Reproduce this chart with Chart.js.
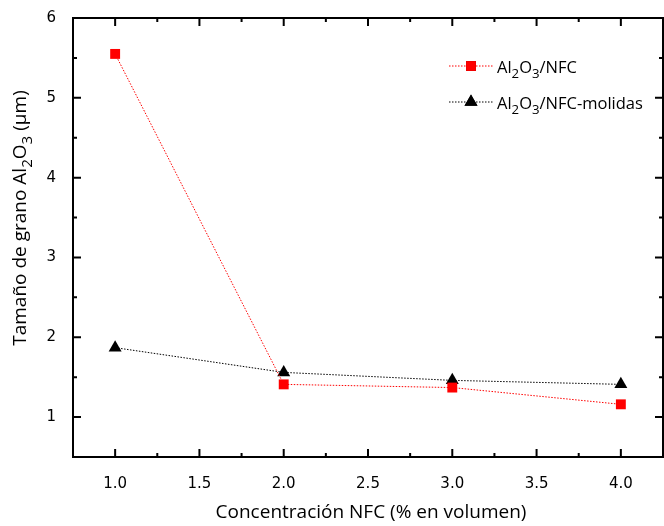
<!DOCTYPE html>
<html>
<head>
<meta charset="utf-8">
<script src="https://cdn.jsdelivr.net/npm/chart.js@4.4.1/dist/chart.umd.min.js"></script>
<style>
  html, body { margin: 0; padding: 0; background: #fff; }
  #wrap { width: 664px; height: 526px; }
</style>
</head>
<body>
<div id="wrap"><canvas id="chart" width="664" height="526"></canvas></div>
<script>
// concentration NFC (% vol)
const concentracion = [1.0, 2.0, 3.0, 4.0];
// grain size, um
const alNfc = [5.55, 1.41, 1.37, 1.16];
const alNfcMolidas = [1.87, 1.56, 1.46, 1.41];

const xTicks = [1.0, 1.5, 2.0, 2.5, 3.0, 3.5, 4.0];
const xMinor = [0.75, 1.25, 1.75, 2.25, 2.75, 3.25, 3.75, 4.25];
const yTicks = [1, 2, 3, 4, 5, 6];
const yMinor = [0.5, 1.5, 2.5, 3.5, 4.5, 5.5];

// text made of [string, isSub] parts
function richWidth(ctx, parts, size) {
  let w = 0;
  parts.forEach(([t, sub]) => {
    ctx.font = (sub ? size * 0.8 : size) + 'px "Open Sans"';
    w += ctx.measureText(t).width;
  });
  return w;
}
function drawRich(ctx, parts, x, y, size) {
  parts.forEach(([t, sub]) => {
    ctx.font = (sub ? size * 0.8 : size) + 'px "Open Sans"';
    ctx.fillText(t, x, sub ? y + size * 0.3 : y);
    x += ctx.measureText(t).width;
  });
}

const yTitle = [['Tamaño de grano Al', false], ['2', true], ['O', false], ['3', true], [' (µm)', false]];
const legendItems = [
  { parts: [['Al', false], ['2', true], ['O', false], ['3', true], ['/NFC', false]], ds: 0 },
  { parts: [['Al', false], ['2', true], ['O', false], ['3', true], ['/NFC-molidas', false]], ds: 1 },
];

const framePlugin = {
  id: 'frame',
  afterDraw(chart) {
    const { ctx, chartArea: a, scales: { x, y } } = chart;
    ctx.save();
    ctx.strokeStyle = '#000';
    ctx.lineWidth = 2;
    ctx.strokeRect(a.left, a.top, a.right - a.left, a.bottom - a.top);

    ctx.beginPath();
    const tick = (vals, len) => {
      vals.forEach(v => {
        const px = x.getPixelForValue(v);
        ctx.moveTo(px, a.bottom); ctx.lineTo(px, a.bottom - len);
        ctx.moveTo(px, a.top); ctx.lineTo(px, a.top + len);
      });
    };
    const tickY = (vals, len) => {
      vals.forEach(v => {
        const py = y.getPixelForValue(v);
        ctx.moveTo(a.left, py); ctx.lineTo(a.left + len, py);
        ctx.moveTo(a.right, py); ctx.lineTo(a.right - len, py);
      });
    };
    tick(xTicks, 8); tick(xMinor, 4);
    tickY(yTicks, 8); tickY(yMinor, 4);
    ctx.stroke();

    // axis titles
    ctx.fillStyle = '#000';
    ctx.font = '19px "Open Sans"';
    ctx.textAlign = 'center';
    ctx.textBaseline = 'alphabetic';
    ctx.fillText('Concentración NFC (% en volumen)', 371, 518);

    ctx.textAlign = 'left';
    ctx.save();
    ctx.translate(26, 218);
    ctx.rotate(-Math.PI / 2);
    const w = richWidth(ctx, yTitle, 19);
    drawRich(ctx, yTitle, -w / 2, 0, 19);
    ctx.restore();

    // legend
    legendItems.forEach((item, i) => {
      const ds = chart.data.datasets[item.ds];
      const ly = 66 + i * 36;
      ctx.strokeStyle = ds.borderColor;
      ctx.lineWidth = 1;
      ctx.setLineDash([1.5, 1.5]);
      ctx.beginPath();
      ctx.moveTo(449, ly); ctx.lineTo(493, ly);
      ctx.stroke();
      ctx.setLineDash([]);
      Chart.helpers.drawPoint(ctx, {
        pointStyle: ds.pointStyle, radius: ds.pointRadius, borderWidth: 0
      }, 471, ly);
      ctx.fillStyle = ds.pointBackgroundColor;
      ctx.fill();
      ctx.fillStyle = '#000';
      drawRich(ctx, item.parts, 497, ly + 7, 16.5);
    });
    ctx.restore();
  }
};

new Chart(document.getElementById('chart'), {
  type: 'scatter',
  data: {
    datasets: [
      {
        label: 'Al2O3/NFC',
        data: concentracion.map((c, i) => ({ x: c, y: alNfc[i] })),
        showLine: true,
        borderColor: '#ff0000',
        borderWidth: 1,
        borderDash: [1.5, 1.5],
        pointStyle: 'rect',
        pointRadius: 7,
        pointBackgroundColor: '#ff0000',
        pointBorderWidth: 0,
      },
      {
        label: 'Al2O3/NFC-molidas',
        data: concentracion.map((c, i) => ({ x: c, y: alNfcMolidas[i] })),
        showLine: true,
        borderColor: '#000000',
        borderWidth: 1,
        borderDash: [1.5, 1.5],
        pointStyle: 'triangle',
        pointRadius: 7.5,
        pointBackgroundColor: '#000000',
        pointBorderWidth: 0,
      },
    ],
  },
  options: {
    responsive: false,
    animation: false,
    layout: { autoPadding: false, padding: { top: 18, right: 1, left: 0, bottom: 0 } },
    plugins: { legend: { display: false }, tooltip: { enabled: false } },
    scales: {
      x: {
        type: 'linear',
        min: 0.75,
        max: 4.25,
        grid: { display: false },
        border: { display: false },
        afterBuildTicks: (s) => { s.ticks = xTicks.map(v => ({ value: v })); },
        afterFit: (s) => { s.height = 69; s.paddingLeft = 0; s.paddingRight = 0; },
        ticks: {
          padding: 10,
          color: '#000',
          font: { family: 'DejaVu Sans', size: 15 },
          callback: (v) => v.toFixed(1),
          maxRotation: 0,
        },
      },
      y: {
        type: 'linear',
        min: 0.5,
        max: 6,
        grid: { display: false },
        border: { display: false },
        afterBuildTicks: (s) => { s.ticks = yTicks.map(v => ({ value: v })); },
        afterFit: (s) => { s.width = 73; s.paddingTop = 0; s.paddingBottom = 0; },
        ticks: {
          padding: 9,
          color: '#000',
          font: { family: 'DejaVu Sans', size: 15 },
        },
      },
    },
  },
  plugins: [framePlugin],
});
</script>
</body>
</html>
